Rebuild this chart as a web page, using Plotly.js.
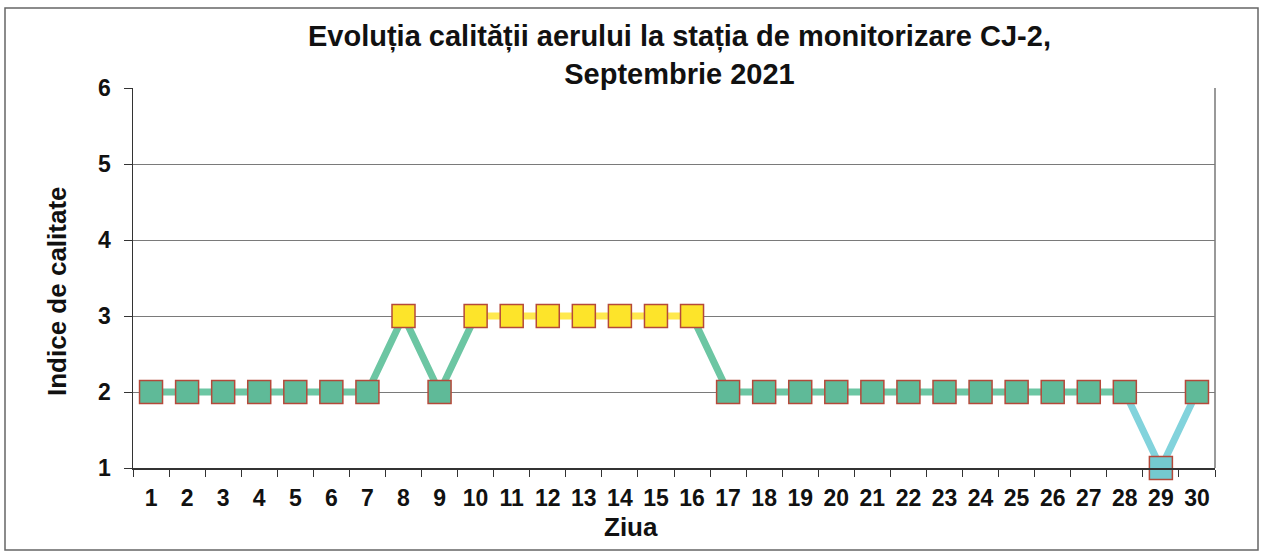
<!DOCTYPE html>
<html>
<head>
<meta charset="utf-8">
<script src="https://cdn.plot.ly/plotly-3.0.1.min.js"></script>
<style>
html,body{margin:0;padding:0;background:#fff;}
#chart{width:1265px;height:553px;}
</style>
</head>
<body>
<div id="chart"></div>
<script>
// ---- data ----
const days = ["1","2","3","4","5","6","7","8","9","10","11","12","13","14","15","16","17","18","19","20","21","22","23","24","25","26","27","28","29","30"];
const indexValues = [2,2,2,2,2,2,2,3,2,3,3,3,3,3,3,3,2,2,2,2,2,2,2,2,2,2,2,2,1,2];
const titleText = "Evoluția calității aerului la stația de monitorizare CJ-2,<br>Septembrie 2021";
const yTitle = "Indice de calitate";
const xTitle = "Ziua";
const yTicks = [1,2,3,4,5,6];

// ---- styles ----
const markerFill = {1:"#74c9cf", 2:"#5fba98", 3:"#fde42a"};
const lineColor  = {1:"#82d3dc", 2:"#6cc6a3", 3:"#ffe94e"};
const markerEdge = "#b5493a";

// segments coloured by the lower value of their two endpoints
const traces = [];
let seg = null;
for (let i = 0; i < indexValues.length - 1; i++) {
  const lv = Math.min(indexValues[i], indexValues[i+1]);
  if (seg && seg.lv === lv && seg.end === i) {
    seg.x.push(days[i+1]); seg.y.push(indexValues[i+1]); seg.end = i+1;
  } else {
    seg = {lv: lv, x:[days[i], days[i+1]], y:[indexValues[i], indexValues[i+1]], end:i+1};
    traces.push(seg);
  }
}
const data = traces.map(s => ({
  type:"scatter", mode:"lines", x:s.x, y:s.y,
  line:{color:lineColor[s.lv], width:7}, hoverinfo:"skip", showlegend:false
}));
data.push({
  type:"scatter", mode:"markers", x:days, y:indexValues, showlegend:false, cliponaxis:false,
  marker:{symbol:"square", size:23, color:indexValues.map(v=>markerFill[v]),
          line:{color:markerEdge, width:1.5}}
});

const L=133, R=1215, T=88, B=468, W=1265, H=553;
const pw=R-L, ph=B-T;
const px = x => (x-L)/pw;
const py = y => (B-y)/ph;

const layout = {
  width:W, height:H,
  margin:{l:L, r:W-R, t:T, b:H-B, pad:0},
  paper_bgcolor:"#fff", plot_bgcolor:"#fff",
  font:{family:"Liberation Sans, Arial, sans-serif", color:"#111"},
  xaxis:{type:"category", categoryorder:"array", categoryarray:days,
         range:[-0.5, 29.5], tickson:"boundaries", ticks:"outside", ticklen:7,
         tickcolor:"#333", showgrid:false, showline:true, linecolor:"#333", linewidth:1.5,
         mirror:false, tickfont:{size:23, color:"#111", weight:"bold"},
         ticklabelstandoff:9, zeroline:false, fixedrange:true},
  yaxis:{range:[1,6], tickvals:yTicks, ticks:"outside", ticklen:8, tickcolor:"#333",
         showgrid:true, gridcolor:"#7a7a7a", gridwidth:1, showline:true, linecolor:"#333",
         linewidth:1.5, zeroline:false, tickfont:{size:23, color:"#111", weight:"bold"},
         ticklabelstandoff:8, fixedrange:true},
  annotations:[
    {text:"<b>"+titleText+"</b>", xref:"paper", yref:"paper",
     x:px(679), y:py(55), xanchor:"center", yanchor:"middle", showarrow:false,
     font:{size:29, color:"#111"}},
    {text:"<b>"+yTitle+"</b>", textangle:-90, xref:"paper", yref:"paper",
     x:px(57), y:py(291), xanchor:"center", yanchor:"middle", showarrow:false,
     font:{size:26, color:"#111"}},
    {text:"<b>"+xTitle+"</b>", xref:"paper", yref:"paper",
     x:px(631), y:py(527), xanchor:"center", yanchor:"middle", showarrow:false,
     font:{size:26, color:"#111"}}
  ],
  shapes:[
    {type:"line", xref:"paper", yref:"paper", x0:1, x1:1, y0:0, y1:1,
     line:{color:"#777", width:1.5}, layer:"below"},
    {type:"rect", xref:"paper", yref:"paper", x0:px(5), x1:px(1258), y0:py(550), y1:py(8),
     line:{color:"#666", width:1.5}, fillcolor:"rgba(0,0,0,0)", layer:"below"}
  ]
};

Plotly.newPlot("chart", data, layout, {displayModeBar:false, staticPlot:true});
</script>
</body>
</html>
